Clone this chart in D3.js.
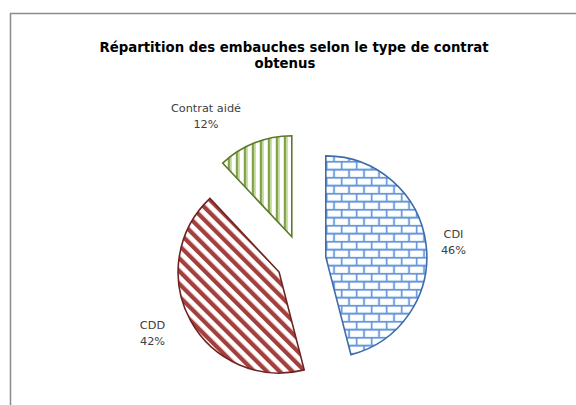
<!DOCTYPE html>
<html><head><meta charset="utf-8">
<script src="https://cdn.jsdelivr.net/npm/d3@7"></script>
<style>body{margin:0;background:#fff}svg{display:block}</style>
</head><body>
<svg id="c" width="576" height="405"></svg>
<script>
const categories = ["CDI", "CDD", "Contrat aidé"];
const values = [46, 42, 12];
const labels = ["46%", "42%", "12%"];
const titleLines = ["Répartition des embauches selon le type de contrat", "obtenus"];

// layout (not data): small best-fit nudges for the data labels
const labelNudge = [[0, 2], [-12, -1], [-8, 1.5]];

const svg = d3.select("#c");
const cx = 301, cy = 260, R = 101, explode = 25;

svg.append("rect").attr("x", 10.5).attr("y", 13.5).attr("width", 620).attr("height", 420)
  .attr("fill", "#fff").attr("stroke", "#8c8c8c").attr("stroke-width", 1.5);

const defs = svg.append("defs");
const pb = defs.append("pattern").attr("id", "brick").attr("patternUnits", "userSpaceOnUse")
  .attr("width", 15).attr("height", 16);
pb.append("rect").attr("width", 15).attr("height", 16).attr("fill", "#fff");
pb.append("path").attr("d", "M0,0.75H15M0,8.75H15M0.75,0V8.75M8.25,8.75V16")
  .attr("stroke", "#6396DB").attr("stroke-width", 1.8).attr("fill", "none");
const pd = defs.append("pattern").attr("id", "diag").attr("patternUnits", "userSpaceOnUse")
  .attr("width", 9).attr("height", 9).attr("patternTransform", "rotate(-45)");
pd.append("rect").attr("width", 9).attr("height", 9).attr("fill", "#fff");
pd.append("rect").attr("width", 4.3).attr("height", 9).attr("fill", "#A33F3C");
const pv = defs.append("pattern").attr("id", "vert").attr("patternUnits", "userSpaceOnUse")
  .attr("width", 8).attr("height", 8);
pv.append("rect").attr("width", 8).attr("height", 8).attr("fill", "#fff");
pv.append("rect").attr("x", 0).attr("width", 2).attr("height", 8).attr("fill", "#7E9F45");
pv.append("rect").attr("x", 2).attr("width", 2).attr("height", 8).attr("fill", "#C3D69B");

const fills = d3.scaleOrdinal().domain(categories).range(["url(#brick)", "url(#diag)", "url(#vert)"]);
const strokes = d3.scaleOrdinal().domain(categories).range(["#3F6DAA", "#6E2322", "#5C7A2A"]);

const pie = d3.pie().sort(null).value(d => d.v);
const data = categories.map((c, i) => ({c, v: values[i], l: labels[i]}));
const arcs = pie(data);
const arc = d3.arc().innerRadius(0).outerRadius(R);

const g = svg.append("g").attr("transform", `translate(${cx},${cy})`);
const slices = g.selectAll("g.slice").data(arcs).join("g").attr("class", "slice")
  .attr("transform", d => {
    const a = (d.startAngle + d.endAngle) / 2;
    return `translate(${explode * Math.sin(a)},${-explode * Math.cos(a)})`;
  });
slices.append("path").attr("d", arc)
  .attr("fill", d => fills(d.data.c))
  .attr("stroke", d => strokes(d.data.c)).attr("stroke-width", 1.6).attr("stroke-linejoin", "miter");

const gap = 15;
const sgn = v => Math.abs(v) < 0.3 ? 0 : Math.sign(v);
arcs.forEach((d, i) => {
  const a = (d.startAngle + d.endAngle) / 2;
  const dx = Math.sin(a), dy = -Math.cos(a);
  const t = g.append("text").attr("font-family", "'DejaVu Sans', sans-serif").attr("font-size", 11.3)
    .attr("fill", "#404040").attr("text-anchor", "middle");
  t.append("tspan").attr("x", 0).attr("dy", 0).text(d.data.c);
  t.append("tspan").attr("x", 0).attr("dy", 16).text(d.data.l);
  const bb = t.node().getBBox();
  const rr = R + explode + gap;
  const px = rr * dx + sgn(dx) * bb.width / 2 + labelNudge[i][0];
  const py = rr * dy + dy * bb.height / 2 + labelNudge[i][1];
  const bcx = bb.x + bb.width / 2, bcy = bb.y + bb.height / 2;
  t.attr("transform", `translate(${px - bcx},${py - bcy})`);
});

const tt = svg.append("text").attr("font-family", "'DejaVu Sans', sans-serif").attr("font-weight", "bold")
  .attr("font-size", 13.3).attr("fill", "#000").attr("text-anchor", "middle");
tt.append("tspan").attr("x", 294).attr("y", 52).text(titleLines[0]);
tt.append("tspan").attr("x", 285).attr("y", 68).text(titleLines[1]);
</script>
</body></html>
